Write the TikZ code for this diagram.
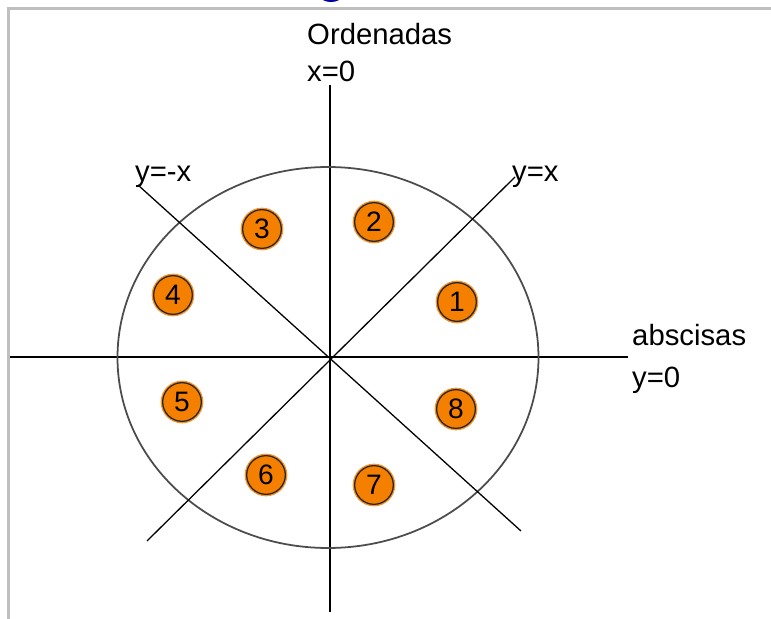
\documentclass[tikz,border=0pt]{standalone}
\usepackage{fontspec}
\setmainfont{Liberation Sans}
\usetikzlibrary{positioning}
\definecolor{octorange}{RGB}{245,128,0}
\begin{document}
\begin{tikzpicture}[x=0.03cm,y=-0.03cm,
  lbl/.style={anchor=base west,inner sep=0pt,font=\fontsize{25}{28}\selectfont},
  octant/.style={circle,draw=black!85,line width=1.1pt,fill=octorange,
    preaction={draw=octorange!85,line width=3.4pt},
    minimum size=1.16cm,inner sep=0pt,font=\fontsize{24}{26}\selectfont}]
  \useasboundingbox (0,0) rectangle (771,619);
  \draw[line width=2.4pt,black!25] (8.5,619)--(8.5,8.5)--(771,8.5);
  \fill[blue!65!black] (331,-3) ellipse [x radius=10,y radius=5];
  % ejes
  \coordinate (o) at (330,357);
  \coordinate (ytop) at (330,85);
  \coordinate (ybot) at (330,612);
  \coordinate (xl) at (10,357);
  \coordinate (xr) at (628,357);
  \draw[line width=1.7pt] (ytop)--(ybot) (xl)--(xr);
  \draw[line width=1.5pt,black!70] (328,357.5) ellipse [x radius=210.5,y radius=190.5];
  % bisectrices
  \coordinate (p1) at (515,177); \coordinate (p2) at (147,541);
  \coordinate (m1) at (138,185); \coordinate (m2) at (521,531);
  \draw[line width=1.1pt] (p1)--(p2) (m1)--(m2);
  \node[lbl] (ord) at (307,45) {Ordenadas};
  \node[lbl] (xcero) at (307,82) {x=0};
  \node[lbl] (abs) at (632,345) {abscisas};
  \node[lbl] (ycero) at (632,387) {y=0};
  \node[lbl] (bis) at (512,181) {y=x};
  \node[lbl] (antibis) at (135,181) {y=-x};
  \foreach \n/\x/\y in {1/457/302,2/374/222,3/262/229,4/173/295,
                        5/182/402,6/266/475,7/374/485,8/456/409}{
    \node[octant] (oct\n) at (\x,\y) {\n};}
\end{tikzpicture}
\end{document}
